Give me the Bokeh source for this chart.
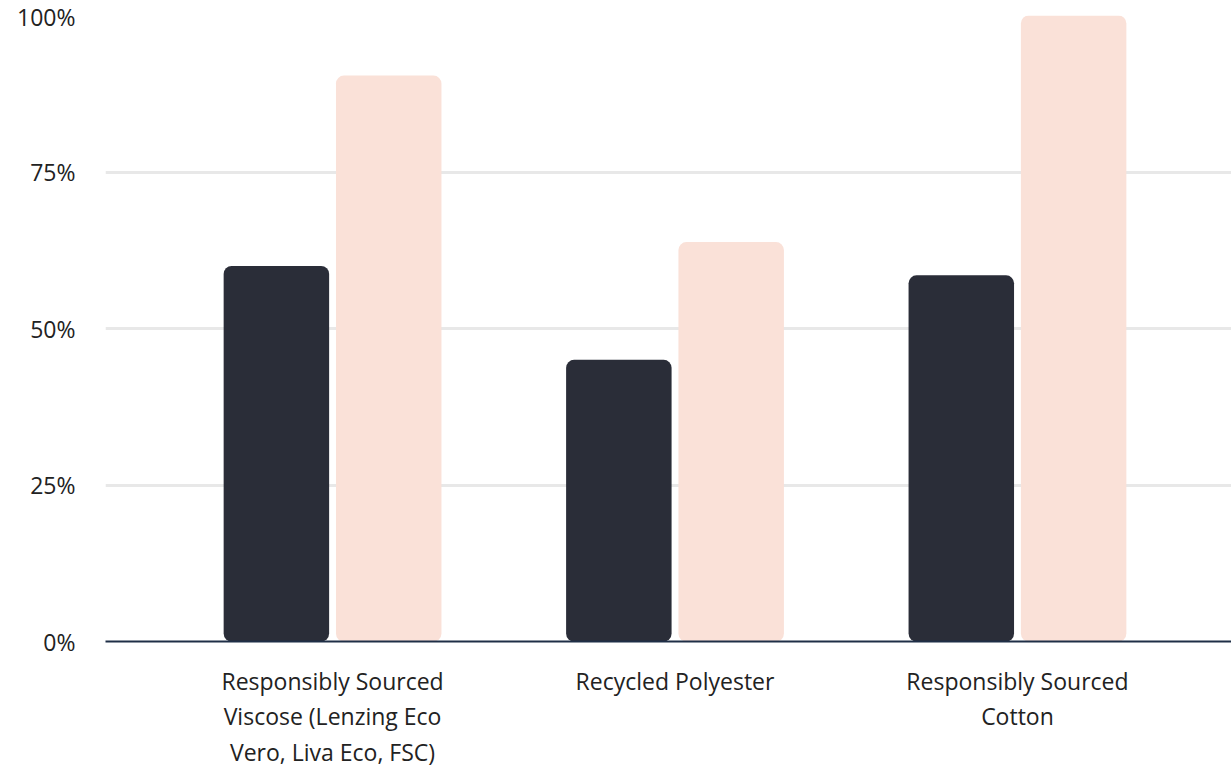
from bokeh.plotting import figure
from bokeh.models import Range1d, FixedTicker, ColumnDataSource
from bokeh.embed import file_html
from bokeh.resources import INLINE

categories = ["Responsibly Sourced\nViscose (Lenzing Eco\nVero, Liva Eco, FSC)",
              "Recycled Polyester",
              "Responsibly Sourced\nCotton"]
series_a = [60, 45, 58.5]
series_b = [90.4, 63.8, 100]
y_ticks = [0, 25, 50, 75, 100]
y_labels = ["0%", "25%", "50%", "75%", "100%"]

xs = list(range(len(categories)))
FONT = "Open Sans"

p = figure(width=1231, height=771, output_backend="svg", toolbar_location=None,
           x_range=Range1d(-0.663, 2.625), y_range=Range1d(0, 100),
           min_border_left=105, min_border_right=0, min_border_top=15, min_border_bottom=130)
p.outline_line_color = None
p.background_fill_color = "white"
p.border_fill_color = "white"

off = 0.164
w = 0.308
src_a = ColumnDataSource(dict(x=[x - off for x in xs], top=series_a))
src_b = ColumnDataSource(dict(x=[x + off for x in xs], top=series_b))
p.vbar(x="x", top="top", bottom=0, width=w, source=src_a, fill_color="#2a2d38",
       line_color=None, border_radius=8)
p.vbar(x="x", top="top", bottom=0, width=w, source=src_b, fill_color="#fae1d8",
       line_color=None, border_radius=8)

p.yaxis.ticker = FixedTicker(ticks=y_ticks)
p.yaxis.major_label_overrides = {t: l for t, l in zip(y_ticks, y_labels)}
p.yaxis.axis_line_color = None
p.yaxis.major_tick_line_color = None
p.yaxis.minor_tick_line_color = None
p.yaxis.major_label_standoff = 24
p.yaxis.major_label_text_font = FONT
p.yaxis.major_label_text_font_size = "23px"
p.yaxis.major_label_text_color = "#222222"

p.xaxis.ticker = FixedTicker(ticks=xs)
p.xaxis.major_label_overrides = {x: c for x, c in zip(xs, categories)}
p.xaxis.axis_line_color = "#1f2f47"
p.xaxis.axis_line_width = 2
p.xaxis.major_tick_line_color = None
p.xaxis.minor_tick_line_color = None
p.xaxis.major_label_standoff = 17
p.xaxis.major_label_text_font = FONT
p.xaxis.major_label_text_font_size = "23px"
p.xaxis.major_label_text_color = "#222222"
p.xaxis.major_label_text_line_height = 1.12

p.xgrid.grid_line_color = None
p.ygrid.grid_line_color = "#e8e8e8"
p.ygrid.grid_line_width = 3
p.ygrid.ticker = FixedTicker(ticks=y_ticks[1:])

open("out.html", "w").write(file_html(p, INLINE))
